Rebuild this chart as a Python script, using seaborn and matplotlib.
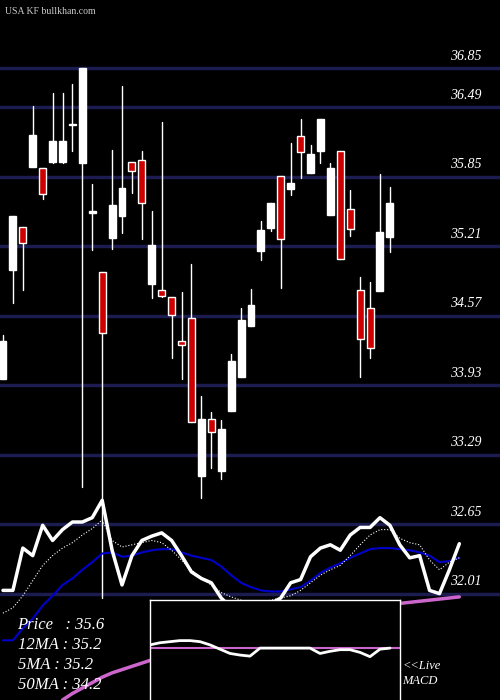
import matplotlib
matplotlib.use("Agg")
import matplotlib.pyplot as plt
import seaborn as sns
import pandas as pd
from matplotlib.patches import Rectangle

# candle data (open, high, low, close)
opens = [33.99, 34.99, 35.39, 35.94, 35.93, 35.99, 35.99, 36.34, 35.98, 35.52,
         34.97, 35.29, 35.49, 35.99, 36.01, 34.86, 34.81, 34.74, 34.34, 34.55,
         33.09, 33.62, 33.14, 33.69, 34.01, 34.48, 35.17, 35.38, 35.86, 35.74,
         36.23, 35.89, 36.09, 35.50, 36.09, 35.55, 34.81, 34.64, 34.80, 35.30]
highs = [34.39, 35.49, 35.39, 36.50, 35.93, 36.62, 36.62, 36.71, 36.85, 35.78,
         34.97, 36.10, 36.69, 35.99, 36.09, 35.54, 36.36, 34.74, 34.79, 35.05,
         33.83, 33.68, 33.61, 34.22, 34.64, 34.82, 35.44, 35.61, 35.86, 36.16,
         36.38, 36.14, 36.38, 35.98, 36.09, 35.73, 34.93, 34.88, 35.88, 35.76]
lows = [33.99, 34.69, 34.81, 35.94, 35.65, 35.98, 35.98, 36.09, 32.99, 35.18,
        31.97, 35.19, 35.33, 35.70, 35.28, 34.73, 34.74, 34.18, 33.99, 33.59,
        32.89, 33.17, 33.07, 33.69, 34.01, 34.48, 35.08, 35.35, 34.83, 35.68,
        35.84, 35.89, 35.98, 35.50, 35.09, 35.31, 34.01, 34.18, 34.80, 35.16]
closes = [34.34, 35.49, 35.24, 36.24, 35.69, 36.18, 36.18, 36.33, 36.85, 35.53,
          34.41, 35.59, 35.75, 35.90, 35.61, 35.22, 34.75, 34.58, 34.30, 33.59,
          33.62, 33.50, 33.53, 34.15, 34.53, 34.67, 35.36, 35.61, 35.28, 35.79,
          36.08, 36.06, 36.38, 35.93, 35.09, 35.37, 34.36, 34.27, 35.34, 35.61]

price_levels = [36.85, 36.49, 35.85, 35.21, 34.57, 33.93, 33.29, 32.65, 32.01]

# indicator panel series (scaled onto the price axis)
osc_fast = [32.04, 32.04, 32.43, 32.36, 32.64, 32.50, 32.60, 32.67, 32.67, 32.71,
            32.87, 32.41, 32.09, 32.36, 32.50, 32.54, 32.57, 32.50, 32.36, 32.21,
            32.15, 32.11, 31.97, 31.88, 31.84, 31.86, 31.88, 31.92, 31.97, 32.11,
            32.14, 32.35, 32.43, 32.46, 32.41, 32.55, 32.62, 32.62, 32.71, 32.64,
            32.46, 32.34, 32.36, 32.04, 32.01, 32.23, 32.47]
osc_dotted = [31.83, 31.88, 31.99, 32.13, 32.27, 32.36, 32.43, 32.48, 32.55, 32.61,
              32.69, 32.50, 32.44, 32.46, 32.48, 32.50, 32.48, 32.41, 32.32, 32.23,
              32.15, 32.09, 32.02, 31.98, 31.95, 31.93, 31.93, 31.95, 31.97, 31.99,
              32.04, 32.11, 32.18, 32.23, 32.27, 32.36, 32.46, 32.55, 32.60, 32.60,
              32.52, 32.48, 32.46, 32.32, 32.23, 32.30, 32.34]
osc_blue = [31.58, 31.58, 31.69, 31.78, 31.90, 31.99, 32.09, 32.15, 32.23, 32.30,
            32.38, 32.39, 32.35, 32.36, 32.39, 32.41, 32.42, 32.42, 32.39, 32.36,
            32.34, 32.32, 32.26, 32.18, 32.11, 32.07, 32.04, 32.03, 32.03, 32.05,
            32.07, 32.13, 32.20, 32.25, 32.29, 32.34, 32.38, 32.42, 32.43, 32.43,
            32.42, 32.41, 32.39, 32.36, 32.30, 32.31, 32.34]
ma50 = [31.03, 31.09, 31.14, 31.19, 31.24, 31.28, 31.31, 31.34, 31.37, 31.40,
        31.43, 31.46, 31.49, 31.52, 31.55, 31.58, 31.61, 31.63, 31.66, 31.68,
        31.70, 31.72, 31.74, 31.76, 31.78, 31.80, 31.82, 31.84, 31.85, 31.87,
        31.88, 31.89, 31.90, 31.91, 31.92, 31.93, 31.94, 31.95, 31.96, 31.97, 31.98]
ma50_start = 6

macd = [0.06, 0.10, 0.12, 0.14, 0.14, 0.12, 0.06, -0.02, -0.10, -0.13,
        -0.15, 0.0, 0.0, 0.0, 0.0, 0.0, 0.0, -0.10, -0.06, -0.03,
        -0.03, -0.08, -0.16, -0.02, 0.0]

legend_lines = ["Price   : 35.6", "12MA : 35.2", "5MA : 35.2", "50MA : 34.2"]

sns.set_style("dark", {"axes.facecolor": "black", "figure.facecolor": "black"})
serif = ["Liberation Serif", "DejaVu Serif"]

fig = plt.figure(figsize=(5, 7), dpi=100)
ax = fig.add_axes([0, 0, 1, 1])
ax.set_facecolor("black")
ax.set_xlim(-0.3, 50.1)
ax.set_ylim(31.03, 37.48)
ax.axis("off")

for lvl in price_levels:
    ax.axhline(lvl, color="#1c1c50", lw=2.5, zorder=1)
    ax.text(48.2, lvl + 0.05, f"{lvl:.2f}", color="white", ha="right", va="bottom",
            fontsize=10, style="italic", family=serif, zorder=6)

for i, (o, h, l, c) in enumerate(zip(opens, highs, lows, closes)):
    ax.plot([i, i], [l, h], color="white", lw=1, zorder=2)
    up = c >= o
    bottom, height = min(o, c), max(abs(c - o), 0.012)
    ax.add_patch(Rectangle((i - 0.35, bottom), 0.7, height,
                           facecolor="white" if up else "#cc0000",
                           edgecolor="white", lw=1, zorder=3))

idx = list(range(len(osc_fast)))
df = pd.DataFrame({"i": idx, "fast": osc_fast, "dot": osc_dotted, "blue": osc_blue})
sns.lineplot(data=df, x="i", y="blue", ax=ax, color="#0000cc", lw=1.5, zorder=4)
sns.lineplot(data=df, x="i", y="dot", ax=ax, color="white", lw=0.8, ls=":", zorder=4)
sns.lineplot(data=df, x="i", y="fast", ax=ax, color="white", lw=2.5, zorder=4)
ma_df = pd.DataFrame({"i": range(ma50_start, ma50_start + len(ma50)), "v": ma50})
sns.lineplot(data=ma_df, x="i", y="v", ax=ax, color="#cc66cc", lw=2.5, zorder=4)
ax.set_xlabel("")
ax.set_ylabel("")

ax.text(0.01, 0.99, "USA KF bullkhan.com", transform=ax.transAxes, color="#cccccc",
        fontsize=7, va="top", family=serif)
for k, t in enumerate(legend_lines):
    ax.text(0.035, 0.107 - k * 0.0286, t, transform=ax.transAxes, color="white",
            fontsize=12, style="italic", va="center", family=serif, zorder=6)
ax.text(0.805, 0.049, "<<Live", transform=ax.transAxes, color="white",
        fontsize=9, style="italic", va="center", family=serif)
ax.text(0.805, 0.027, "MACD", transform=ax.transAxes, color="white",
        fontsize=9, style="italic", va="center", family=serif)

# MACD inset box
ins = fig.add_axes([0.30, -0.01, 0.50, 0.153])
ins.set_facecolor("black")
ins.set_xlim(0, 25)
ins.set_ylim(-1.1, 0.9)
ins.set_xticks([])
ins.set_yticks([])
for s in ins.spines.values():
    s.set_color("white")
    s.set_linewidth(1)
ins.axhline(0, color="#cc66cc", lw=1.5)
sns.lineplot(x=list(range(len(macd))), y=macd, ax=ins, color="white", lw=2)

fig.savefig("out.png", dpi=100, facecolor="black")
